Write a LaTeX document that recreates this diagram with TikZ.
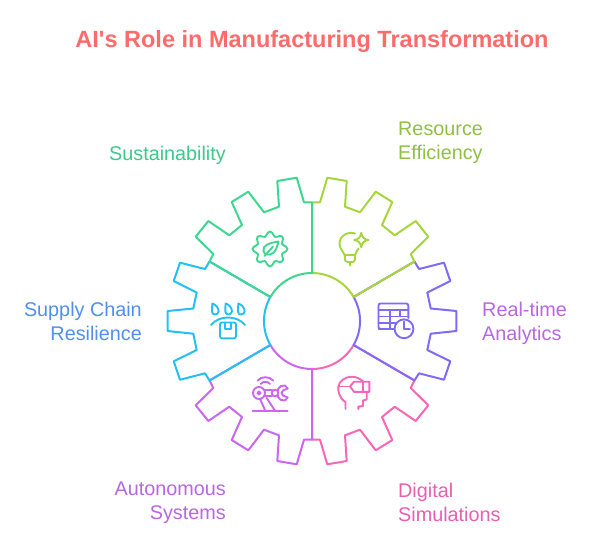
\documentclass[tikz,border=0pt]{standalone}
\usepackage{fontspec}
\setmainfont{Liberation Sans}
\definecolor{cTitle}{HTML}{FF6B6B}
\definecolor{cGreen}{HTML}{3FD68F}
\definecolor{cLime}{HTML}{A6D63C}
\definecolor{cViolet}{HTML}{7F6CF5}
\definecolor{cPink}{HTML}{F766B8}
\definecolor{cMag}{HTML}{CC66F2}
\definecolor{cBlue}{HTML}{22C0F7}
\definecolor{tGreen}{HTML}{3CC98A}
\definecolor{tLime}{HTML}{8FBF45}
\definecolor{tPurple}{HTML}{B866E3}
\definecolor{tPink}{HTML}{E75FB0}
\definecolor{tBlue}{HTML}{4F8FF0}
\tikzset{
  sector/.style={line width=2pt,line join=round},
  icon/.style={line width=1.9pt,line join=round,line cap=round},
  lbl/.style={font=\fontsize{19.8}{24}\selectfont,inner sep=0pt},
}
\def\sectorA{(312,273) -- (312,202.3) -- (304,202.3) -- (296.7,177.7) -- (277.3,181) -- (279,206.7) -- (264,212.3) -- (248.3,191.7) -- (231.7,202) -- (242,225) -- (229.3,235.3) -- (208.3,221) -- (195.7,236.7) -- (213.3,254) -- (209.5,261.5) -- (270.4,297) arc[start angle=210,end angle=270,radius=48] -- cycle}
\def\sectorB{(270.4,345) -- (209.5,380.5) -- (205,373.3) -- (180,379.7) -- (173.7,361.3) -- (196.7,350) -- (193.3,333.7) -- (167.7,331) -- (167.7,311) -- (193.3,308.5) -- (196.7,292.5) -- (173.7,281) -- (180,262.7) -- (205,269) -- (209.5,261.5) -- (270.4,297) arc[start angle=210,end angle=150,radius=48] -- cycle}
\begin{document}
\begin{tikzpicture}[x=1pt,y=-1pt]
\useasboundingbox (0,0) rectangle (600,549);
% sectors, in the order they overlap
\begin{scope}[shift={(624,642)},xscale=-1,yscale=-1]
  \draw[sector,cPink] \sectorA;
\end{scope}
\begin{scope}[shift={(624,0)},xscale=-1]
  \draw[sector,cViolet] \sectorB;
\end{scope}
\begin{scope}[shift={(0,642)},yscale=-1]
  \draw[sector,cMag] \sectorA;
\end{scope}
\draw[sector,cBlue] \sectorB;
\begin{scope}[shift={(624,0)},xscale=-1]
  \draw[sector,cLime] \sectorA;
\end{scope}
\draw[sector,cGreen] \sectorA;
% gear + leaf
\draw[icon,cGreen] plot[smooth cycle,samples=48,domain=0:352.5,variable=\t] ({270+(15.3+2.2*cos(8*\t))*cos(\t)},{249+(15.3+2.2*cos(8*\t))*sin(\t)});
\draw[icon,cGreen] (278.5,241.5) .. controls (270,243) and (262,245) .. (263.5,251) .. controls (264.5,255) and (268,255) .. (270,254.5) .. controls (276,253) and (277,247) .. (278.5,241.5) -- cycle;
\draw[icon,cGreen] (264.5,256) -- (273,246.5);
% bulb + sparkle
\draw[icon,cLime] (355,233.5) .. controls (350,231.5) and (339.5,234) .. (339.5,244) .. controls (339.5,248) and (343,251) .. (344.5,255) -- (355,255) .. controls (356,252) and (357.5,250) .. (358.5,248.5);
\draw[icon,cLime] (344.8,255) -- (344.8,259) .. controls (344.8,261) and (346,262) .. (348,262) -- (352,262) .. controls (354,262) and (355,261) .. (355,259) -- (355,255);
\draw[icon,cLime] (349.8,262) -- (349.8,265.5);
\draw[icon,cLime] (361.3,232.8) .. controls (362,237) and (364,239.5) .. (368.5,240) .. controls (364,240.5) and (362,243) .. (361.3,247.2) .. controls (360.5,243) and (358.5,240.5) .. (354.2,240) .. controls (358.5,239.5) and (360.5,237) .. (361.3,232.8) -- cycle;
% table + clock
\draw[icon,cViolet,rounded corners=2pt] (394,329) -- (380.5,329) -- (378.5,329) -- (378.5,303.5) -- (408.3,303.5) -- (408.3,318);
\draw[icon,cViolet] (378.5,310) -- (408.3,310) (378.5,316.5) -- (408.3,316.5) (378.5,323) -- (396,323) (390,310) -- (390,329) (400,310) -- (400,316.5);
\draw[icon,cViolet,fill=white] (404,328.8) circle[radius=9.4];
\draw[icon,cViolet] (404,321.5) -- (404,329) -- (410,329);
% package in the rain
\foreach \x in {215,228.3,241}{
  \draw[icon,cBlue] (\x-2.6,303.5) .. controls (\x+0.5,304.5) and (\x+4,308) .. (\x+3.6,311.5) .. controls (\x+3,315.5) and (\x-3,315.5) .. (\x-3,311.5) .. controls (\x-3,309) and (\x-3,306) .. (\x-2.6,303.5) -- cycle;
}
\draw[icon,cBlue] (211,325) .. controls (219,315) and (237,315) .. (245,325);
\draw[icon,cBlue,rounded corners=2pt] (220,322.5) rectangle (236,338.3);
\draw[icon,cBlue] (225,322.5) -- (225,329.3) -- (230.8,329.3) -- (230.8,322.5);
% robot arm
\draw[icon,cMag] (252.5,410.7) -- (287.7,410.7);
\draw[icon,cMag] (259,393) circle[radius=6];
\draw[icon,cMag] (259,393) circle[radius=1.6];
\draw[icon,cMag] (260,399) -- (265.3,410.7) (266.7,398) -- (275,410.7);
\draw[icon,cMag] (265,390) -- (272.2,390) (265,396) -- (272.2,396);
\draw[icon,cMag] (275,393) circle[radius=3.3];
\draw[icon,cMag] (278,391) -- (278,389) .. controls (279,386.5) and (282,385) .. (285,385.5) -- (287.7,388.5) -- (283,390.5) -- (281.5,393) -- (283,395.5) -- (287.7,397.5) -- (285,400.5) .. controls (282,401) and (279,399.5) .. (278,397) -- (278,395);
\draw[icon,cMag] (257.5,380.7) .. controls (261,376) and (269.5,376) .. (273.3,380.7);
\draw[icon,cMag] (260.8,384) .. controls (263,381) and (268,381) .. (270,384);
% head with VR headset
\draw[icon,cPink] (345.5,409) -- (345.5,402) .. controls (339,398) and (338,391) .. (338.3,387) .. controls (339,381) and (345,376.7) .. (352,376.7) .. controls (356,376.7) and (360,378.5) .. (363.3,381.7);
\draw[icon,cPink] (358.3,409) -- (358.3,406.5) -- (363,406) -- (363,400.5) -- (366.7,399.5) -- (366.7,392);
\draw[icon,cPink] (338.5,386.5) -- (350,386.5);
\draw[icon,cPink] (350,386.5) -- (354,381.7) -- (369.3,381.7) -- (369.3,391.8) -- (354,391.8) -- cycle;
\draw[icon,cPink] (363.3,381.7) -- (363.3,391.8);
% texts
\node[inner sep=0pt,font=\bfseries\fontsize{23.5}{28}\selectfont,text=cTitle] (title) at (312,41) {AI\textquotesingle s Role in Manufacturing Transformation};
\node[lbl,text=tGreen,anchor=east] (sust) at (226,155) {Sustainability};
\node[lbl,text=tLime,anchor=west,align=left] (res) at (398,143) {Resource\\Efficiency};
\node[lbl,text=tPurple,anchor=west,align=left] (real) at (482,323) {Real-time\\Analytics};
\node[lbl,text=tPink,anchor=west,align=left] (dig) at (398,502) {Digital\\Simulations};
\node[lbl,text=tPurple,anchor=east,align=right] (auto) at (226,503) {Autonomous\\Systems};
\node[lbl,text=tBlue,anchor=east,align=right] (sup) at (142,321) {Supply Chain\\Resilience};
\end{tikzpicture}
\end{document}
